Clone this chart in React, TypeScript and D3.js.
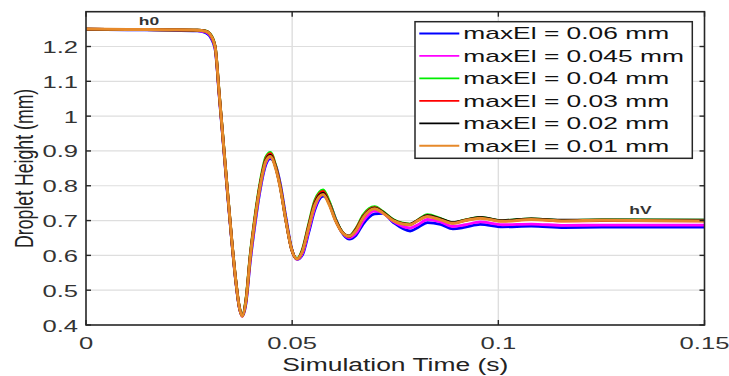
import React from "react";
import * as d3 from "d3";

// Simulation time samples (s), shared by every series
const TIME_S = [
  0, 0.01, 0.02, 0.027, 0.029, 0.03, 0.0313, 0.0323, 0.0333, 0.0343, 0.0353, 0.0363,
  0.0372, 0.0379, 0.0388, 0.0398, 0.041, 0.0422, 0.0436, 0.0447, 0.046, 0.0471, 0.0485,
  0.0498, 0.0512, 0.0525, 0.054, 0.0555, 0.0575, 0.059, 0.0605, 0.062, 0.0638, 0.0655,
  0.0672, 0.07, 0.072, 0.0745, 0.0786, 0.0805, 0.0828, 0.086, 0.089, 0.092, 0.0956,
  0.101, 0.108, 0.116, 0.125, 0.15,
];

// Droplet height (mm) for each maximum electrode deflection
const H_MAXEL_060 = [
  1.249, 1.248, 1.247, 1.245, 1.24, 1.23, 1.192, 1.058, 0.918, 0.778, 0.645, 0.526,
  0.448, 0.426, 0.462, 0.578, 0.69, 0.785, 0.86, 0.878, 0.858, 0.807, 0.708,
  0.623, 0.589, 0.602, 0.665, 0.731, 0.77, 0.752, 0.706, 0.667, 0.647, 0.658,
  0.69, 0.719, 0.721, 0.695, 0.67, 0.68, 0.694, 0.689, 0.676, 0.681, 0.689,
  0.682, 0.684, 0.68, 0.681, 0.681,
];
const H_MAXEL_045 = [
  1.25, 1.249, 1.248, 1.246, 1.242, 1.233, 1.196, 1.062, 0.922, 0.782, 0.648, 0.528,
  0.449, 0.425, 0.466, 0.585, 0.698, 0.792, 0.866, 0.882, 0.856, 0.803, 0.703,
  0.62, 0.589, 0.606, 0.672, 0.738, 0.775, 0.751, 0.704, 0.668, 0.651, 0.664,
  0.698, 0.728, 0.722, 0.698, 0.679, 0.688, 0.703, 0.696, 0.683, 0.688, 0.696,
  0.688, 0.69, 0.686, 0.687, 0.687,
];
const H_MAXEL_040 = [
  1.25, 1.249, 1.248, 1.247, 1.245, 1.238, 1.203, 1.068, 0.928, 0.788, 0.652, 0.532,
  0.452, 0.428, 0.476, 0.6, 0.715, 0.808, 0.882, 0.896, 0.858, 0.8, 0.7,
  0.62, 0.591, 0.618, 0.69, 0.758, 0.788, 0.755, 0.705, 0.67, 0.655, 0.678,
  0.716, 0.74, 0.726, 0.703, 0.69, 0.702, 0.717, 0.706, 0.694, 0.702, 0.709,
  0.7, 0.705, 0.7, 0.702, 0.701,
];
const H_MAXEL_030 = [
  1.25, 1.249, 1.248, 1.247, 1.244, 1.237, 1.201, 1.066, 0.926, 0.786, 0.651, 0.531,
  0.451, 0.427, 0.473, 0.596, 0.71, 0.803, 0.877, 0.892, 0.855, 0.798, 0.699,
  0.62, 0.59, 0.615, 0.686, 0.753, 0.784, 0.75, 0.702, 0.669, 0.655, 0.676,
  0.712, 0.737, 0.724, 0.701, 0.689, 0.701, 0.714, 0.704, 0.693, 0.701, 0.708,
  0.699, 0.704, 0.699, 0.7, 0.699,
];
const H_MAXEL_020 = [
  1.25, 1.249, 1.248, 1.247, 1.244, 1.236, 1.2, 1.065, 0.925, 0.785, 0.65, 0.53,
  0.45, 0.426, 0.471, 0.594, 0.707, 0.8, 0.873, 0.887, 0.853, 0.797, 0.699,
  0.62, 0.59, 0.613, 0.683, 0.749, 0.779, 0.748, 0.702, 0.669, 0.655, 0.674,
  0.71, 0.736, 0.724, 0.702, 0.689, 0.701, 0.714, 0.705, 0.694, 0.701, 0.709,
  0.7, 0.705, 0.701, 0.702, 0.701,
];
const H_MAXEL_010 = [
  1.25, 1.249, 1.248, 1.247, 1.244, 1.236, 1.2, 1.065, 0.925, 0.785, 0.65, 0.53,
  0.45, 0.425, 0.47, 0.592, 0.705, 0.797, 0.87, 0.884, 0.85, 0.795, 0.698,
  0.62, 0.59, 0.612, 0.68, 0.745, 0.775, 0.745, 0.7, 0.668, 0.655, 0.672,
  0.708, 0.734, 0.722, 0.7, 0.688, 0.7, 0.712, 0.702, 0.692, 0.7, 0.707,
  0.698, 0.703, 0.699, 0.701, 0.699,
];

const SERIES_LABELS = [
  "maxEl = 0.06 mm",
  "maxEl = 0.045 mm",
  "maxEl = 0.04 mm",
  "maxEl = 0.03 mm",
  "maxEl = 0.02 mm",
  "maxEl = 0.01 mm",
];
const SERIES_VALUES = [H_MAXEL_060, H_MAXEL_045, H_MAXEL_040, H_MAXEL_030, H_MAXEL_020, H_MAXEL_010];
const SERIES_COLORS = ["#0000ff", "#ff00ff", "#00ee00", "#ff0000", "#000000", "#e6892a"];

const X_TICKS = [0, 0.05, 0.1, 0.15];
const X_TICK_LABELS = ["0", "0.05", "0.1", "0.15"];
const Y_TICKS = [0.4, 0.5, 0.6, 0.7, 0.8, 0.9, 1.0, 1.1, 1.2];
const Y_TICK_LABELS = ["0.4", "0.5", "0.6", "0.7", "0.8", "0.9", "1", "1.1", "1.2"];
const Y_GRID = [0.5, 0.6, 0.7, 0.8, 0.9, 1.0, 1.1, 1.2];

const W = 729;
const H = 376;
const PLOT = { left: 86, right: 704.5, top: 11.7, bottom: 325 };
const FONT = "'Liberation Sans', Arial, Helvetica, sans-serif";
const AXIS = "#262626";
const LABEL = "#333333";

type STProps = {
  x: number;
  y: number;
  sx: number;
  size: number;
  anchor?: "start" | "middle" | "end";
  rotate?: boolean;
  fill?: string;
  weight?: number;
  children: React.ReactNode;
};

// Text with a horizontal stretch applied about its anchor point
function StretchText({ x, y, sx, size, anchor = "start", rotate = false, fill = LABEL, weight = 400, children }: STProps) {
  return (
    <text
      transform={`translate(${x},${y}) scale(${sx},1)${rotate ? " rotate(-90)" : ""}`}
      fontSize={size}
      textAnchor={anchor}
      fontFamily={FONT}
      fontWeight={weight}
      fill={fill}
    >
      {children}
    </text>
  );
}

export default function App() {
  const x = d3.scaleLinear().domain([0, 0.15]).range([PLOT.left, PLOT.right]);
  const y = d3.scaleLinear().domain([0.4, 1.3]).range([PLOT.bottom, PLOT.top]);

  const line = d3
    .line<number>()
    .x((_, i) => x(TIME_S[i]))
    .y((v) => y(v))
    .curve(d3.curveMonotoneX);

  const tickLen = 5;
  const legend = { left: 415, top: 21.7, right: 692.3, bottom: 158.3, row0: 33.5, rowStep: 22.45 };

  return (
    <svg
      width={W}
      height={H}
      style={{ position: "absolute", left: 0, top: 0, background: "#fff" }}
    >
      <rect x={0} y={0} width={W} height={H} fill="#fff" />
      <defs>
        <clipPath id="plotclip">
          <rect x={PLOT.left} y={PLOT.top} width={PLOT.right - PLOT.left} height={PLOT.bottom - PLOT.top} />
        </clipPath>
      </defs>

      {/* grid */}
      {Y_GRID.map((v) => (
        <line key={`gy${v}`} x1={PLOT.left} x2={PLOT.right} y1={y(v)} y2={y(v)} stroke="#dedede" strokeWidth={1.2} />
      ))}
      {X_TICKS.slice(1, -1).map((t) => (
        <line key={`gx${t}`} x1={x(t)} x2={x(t)} y1={PLOT.top} y2={PLOT.bottom} stroke="#dedede" strokeWidth={1.4} />
      ))}

      {/* curves */}
      <g clipPath="url(#plotclip)">
        {SERIES_VALUES.map((vals, i) => (
          <path
            key={SERIES_LABELS[i]}
            d={line(vals) || ""}
            fill="none"
            stroke={SERIES_COLORS[i]}
            strokeWidth={i === SERIES_VALUES.length - 1 ? 3 : 2.8}
            strokeLinejoin="round"
          />
        ))}
      </g>

      {/* axes box and ticks */}
      <rect
        x={PLOT.left}
        y={PLOT.top}
        width={PLOT.right - PLOT.left}
        height={PLOT.bottom - PLOT.top}
        fill="none"
        stroke={AXIS}
        strokeWidth={1.6}
      />
      {X_TICKS.map((t) => (
        <g key={`xt${t}`}>
          <line x1={x(t)} x2={x(t)} y1={PLOT.bottom} y2={PLOT.bottom - tickLen} stroke={AXIS} strokeWidth={1.4} />
          <line x1={x(t)} x2={x(t)} y1={PLOT.top} y2={PLOT.top + tickLen} stroke={AXIS} strokeWidth={1.4} />
        </g>
      ))}
      {Y_TICKS.map((v) => (
        <g key={`yt${v}`}>
          <line x1={PLOT.left} x2={PLOT.left + tickLen} y1={y(v)} y2={y(v)} stroke={AXIS} strokeWidth={1.4} />
          <line x1={PLOT.right} x2={PLOT.right - tickLen} y1={y(v)} y2={y(v)} stroke={AXIS} strokeWidth={1.4} />
        </g>
      ))}

      {/* tick labels */}
      {Y_TICKS.map((v, i) => (
        <StretchText key={`yl${v}`} x={78} y={y(v) + 6.5} sx={1.57} size={16.3} anchor="end">
          {Y_TICK_LABELS[i]}
        </StretchText>
      ))}
      {X_TICKS.map((t, i) => (
        <StretchText key={`xl${t}`} x={x(t)} y={348.5} sx={1.57} size={16.3} anchor="middle">
          {X_TICK_LABELS[i]}
        </StretchText>
      ))}

      {/* axis titles */}
      <StretchText x={(PLOT.left + PLOT.right) / 2} y={370.5} sx={1.51} size={17.5} anchor="middle" fill="#222">
        Simulation Time (s)
      </StretchText>
      <StretchText x={32.5} y={(PLOT.top + PLOT.bottom) / 2} sx={1.5} size={17.7} anchor="middle" rotate fill="#222">
        Droplet Height (mm)
      </StretchText>

      {/* annotations */}
      <StretchText x={149} y={25} sx={1.6} size={10.9} anchor="middle" fill="#333" weight={700}>
        h0
      </StretchText>
      <StretchText x={640.5} y={214.3} sx={1.48} size={11.8} anchor="middle" fill="#333" weight={700}>
        hV
      </StretchText>

      {/* legend */}
      <rect
        x={legend.left}
        y={legend.top}
        width={legend.right - legend.left}
        height={legend.bottom - legend.top}
        fill="#fff"
        stroke={AXIS}
        strokeWidth={1.5}
      />
      {SERIES_LABELS.map((label, i) => {
        const ry = legend.row0 + i * legend.rowStep;
        return (
          <g key={`lg${label}`}>
            <line x1={419.3} x2={459.3} y1={ry} y2={ry} stroke={SERIES_COLORS[i]} strokeWidth={1.8} />
            <StretchText x={463.3} y={ry + 5.8} sx={1.67} size={15.8} fill="#111">
              {label}
            </StretchText>
          </g>
        );
      })}
    </svg>
  );
}
